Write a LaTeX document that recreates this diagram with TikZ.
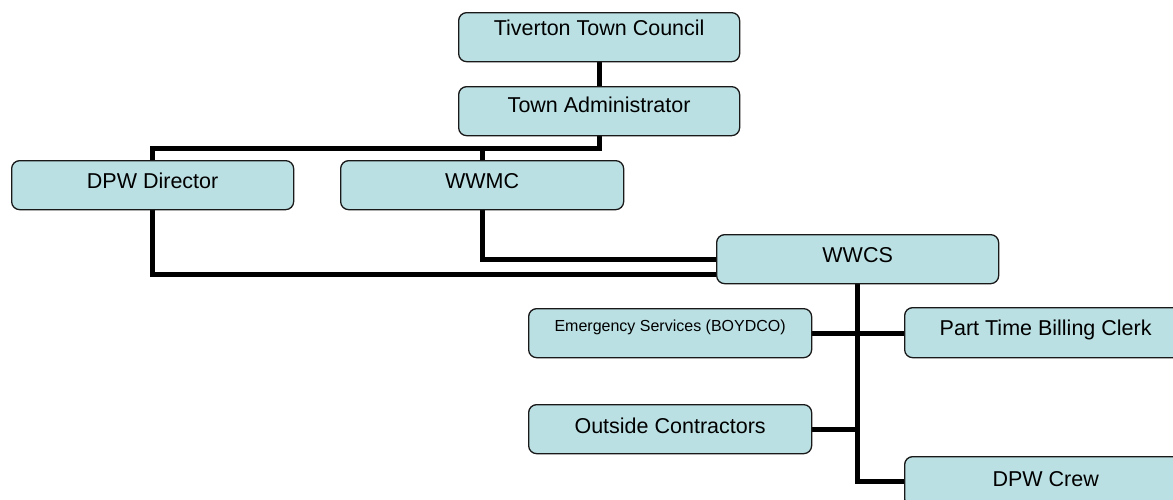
\documentclass[tikz,border=0pt]{standalone}
\usepackage{fontspec}
\setmainfont{Liberation Sans}
\usetikzlibrary{calc}
\definecolor{boxfill}{RGB}{187,224,227}
\definecolor{boxline}{RGB}{25,25,25}
\pgfdeclarelayer{bg}
\pgfsetlayers{bg,main}
\tikzset{
  orgbox/.style={draw=boxline, line width=1.3pt, fill=boxfill, rounded corners=8pt,
    inner sep=0pt, anchor=north west, font=\fontsize{21.5}{25}\selectfont},
  smallfont/.style={font=\fontsize{16}{19}\selectfont},
  conn/.style={line width=5pt, draw=black},
}
\begin{document}
\begin{tikzpicture}[x=1pt,y=-1pt]
\clip (0,0) rectangle (1173,499);
\node[orgbox, minimum width=281pt, text height=23pt, text depth=26pt] (tc) at (458,12) {Tiverton Town Council};
\node[orgbox, minimum width=281pt, text height=26pt, text depth=23pt] (ta) at (458,86) {Town Administrator};
\node[orgbox, minimum width=282pt, text height=28pt, text depth=21pt] (dpw) at (11,160) {DPW Director};
\node[orgbox, minimum width=283pt, text height=28pt, text depth=21pt] (wwmc) at (340,160) {WWMC};
\node[orgbox, minimum width=282pt, text height=28pt, text depth=21pt] (wwcs) at (716,234) {WWCS};
\node[orgbox, smallfont, minimum width=283pt, text height=23pt, text depth=26pt] (em) at (528,308) {Emergency Services (BOYDCO)};
\node[orgbox, minimum width=283pt, text height=29pt, text depth=20pt] (oc) at (528,404) {Outside Contractors};
\node[orgbox, minimum width=282pt, text height=28pt, text depth=22pt] (pt) at (904,307) {Part Time Billing Clerk};
\node[orgbox, minimum width=282pt, text height=30pt, text depth=20pt] (crew) at (904,456) {DPW Crew};
\begin{pgfonlayer}{bg}
  \fill[white] (0,0) rectangle (1173,499);
  \draw[conn] (tc.south) -- (ta.north);
  \draw[conn] (ta.south) -- ++(0,12) coordinate (bus) -| (dpw.north);
  \draw[conn] (wwmc.north) -- (wwmc.north |- bus);
  \draw[conn] (dpw.south) |- ($(wwcs.south west)+(0,-10)$);
  \draw[conn] (wwmc.south) |- (wwcs.west);
  \draw[conn] (wwcs.south) |- (crew.west);
  \draw[conn] (em.east) -- (em.east -| pt.west);
  \draw[conn] (oc.east) -- (oc.east -| wwcs.south);
\end{pgfonlayer}
\end{tikzpicture}
\end{document}
